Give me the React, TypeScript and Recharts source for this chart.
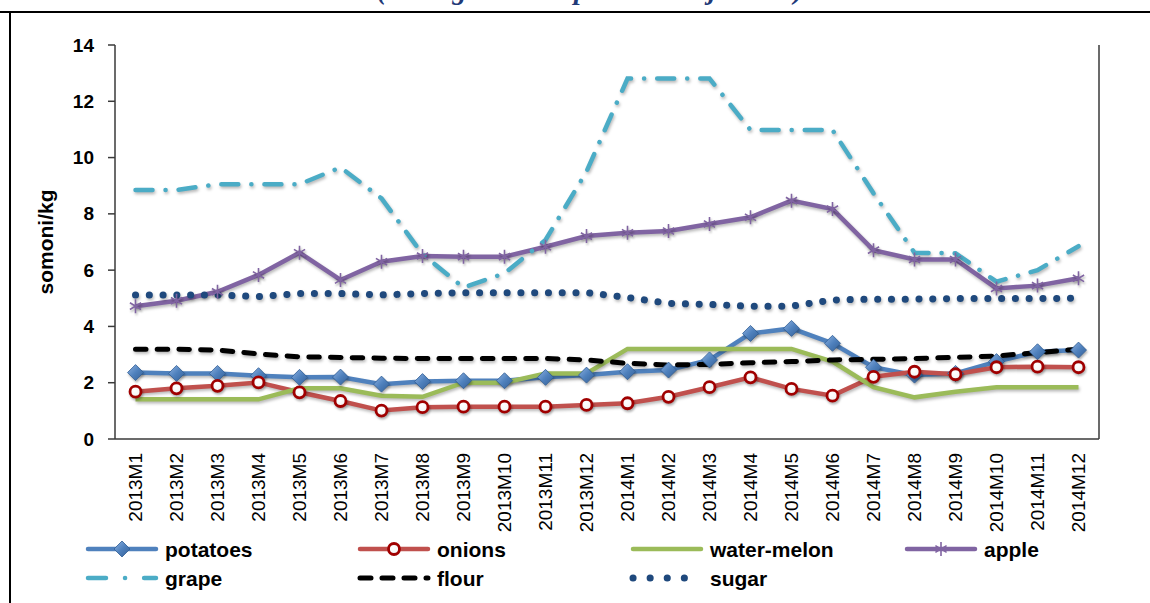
import { LineChart, Line, XAxis, YAxis } from 'recharts'

const months = [
  '2013M1', '2013M2', '2013M3', '2013M4', '2013M5', '2013M6',
  '2013M7', '2013M8', '2013M9', '2013M10', '2013M11', '2013M12',
  '2014M1', '2014M2', '2014M3', '2014M4', '2014M5', '2014M6',
  '2014M7', '2014M8', '2014M9', '2014M10', '2014M11', '2014M12',
]

const potatoes = [2.36, 2.33, 2.33, 2.25, 2.19, 2.2, 1.95, 2.04, 2.07, 2.07, 2.19, 2.27, 2.39, 2.45, 2.81, 3.75, 3.93, 3.4, 2.55, 2.27, 2.33, 2.75, 3.1, 3.16]
const onions = [1.68, 1.8, 1.89, 2.01, 1.66, 1.35, 1.01, 1.13, 1.15, 1.15, 1.15, 1.21, 1.27, 1.5, 1.84, 2.19, 1.78, 1.54, 2.21, 2.39, 2.3, 2.55, 2.57, 2.55]
const waterMelon = [1.41, 1.41, 1.41, 1.41, 1.8, 1.8, 1.54, 1.5, 2.0, 2.0, 2.33, 2.33, 3.2, 3.2, 3.2, 3.2, 3.2, 2.75, 1.84, 1.48, 1.68, 1.84, 1.84, 1.84]
const apple = [4.72, 4.91, 5.23, 5.83, 6.62, 5.65, 6.3, 6.5, 6.48, 6.48, 6.83, 7.21, 7.33, 7.39, 7.64, 7.88, 8.47, 8.17, 6.71, 6.38, 6.38, 5.35, 5.45, 5.71]
const grape = [8.85, 8.85, 9.05, 9.05, 9.05, 9.65, 8.55, 6.57, 5.38, 5.89, 7.07, 9.5, 12.81, 12.81, 12.81, 10.98, 10.98, 10.98, 8.73, 6.62, 6.6, 5.59, 6.0, 6.85]
const flour = [3.19, 3.19, 3.16, 3.02, 2.92, 2.9, 2.87, 2.86, 2.86, 2.86, 2.86, 2.81, 2.69, 2.63, 2.65, 2.71, 2.75, 2.81, 2.83, 2.86, 2.9, 2.95, 3.07, 3.19]
const sugar = [5.12, 5.12, 5.12, 5.06, 5.17, 5.17, 5.12, 5.17, 5.2, 5.2, 5.2, 5.2, 5.03, 4.82, 4.78, 4.72, 4.72, 4.94, 4.97, 4.97, 4.99, 4.99, 4.99, 5.0]

const yTicks = [0, 2, 4, 6, 8, 10, 12, 14]

const data = months.map((month, i) => ({
  month,
  potatoes: potatoes[i],
  onions: onions[i],
  waterMelon: waterMelon[i],
  apple: apple[i],
  grape: grape[i],
  flour: flour[i],
  sugar: sugar[i],
}))

const FONT = '"Liberation Sans", Arial, sans-serif'
const AXIS = '#3a3a3a'

const diamondPath = (cx: number, cy: number, r: number) =>
  `M${cx},${cy - r}L${cx + r},${cy}L${cx},${cy + r}L${cx - r},${cy}Z`

const DiamondDot = (props: any) => {
  const { cx, cy, index } = props
  if (cx == null || cy == null) return <g key={index} />
  return (
    <path
      key={index}
      d={diamondPath(cx, cy, 8)}
      fill="url(#potGrad)"
      stroke="#2f5d94"
      strokeWidth={0.8}
    />
  )
}

const RingDot = (props: any) => {
  const { cx, cy, index } = props
  if (cx == null || cy == null) return <g key={index} />
  return (
    <circle
      key={index}
      cx={cx}
      cy={cy}
      r={5.5}
      fill="url(#onionGrad)"
      stroke="#a00000"
      strokeWidth={2.8}
    />
  )
}

const starPath = (cx: number, cy: number, r: number) => {
  const d = r * 0.8
  return `M${cx},${cy - r}L${cx},${cy + r}M${cx - d},${cy - d * 0.6}L${cx + d},${cy + d * 0.6}M${cx - d},${cy + d * 0.6}L${cx + d},${cy - d * 0.6}`
}

const StarDot = (props: any) => {
  const { cx, cy, index } = props
  if (cx == null || cy == null) return <g key={index} />
  return (
    <path
      key={index}
      d={starPath(cx, cy, 7)}
      stroke="#8064a2"
      strokeWidth={1.6}
      fill="none"
    />
  )
}

const MonthTick = (props: any) => {
  const { x, y, payload } = props
  return (
    <text
      x={x}
      y={y}
      transform={`rotate(-90 ${x} ${y})`}
      textAnchor="end"
      dominantBaseline="central"
      fontFamily={FONT}
      fontSize={19}
      fill="#000"
    >
      {payload.value}
    </text>
  )
}

const ValueTick = (props: any) => {
  const { x, y, payload, anchor } = props
  return (
    <text
      x={x}
      y={y}
      textAnchor={anchor}
      dominantBaseline="central"
      fontFamily={FONT}
      fontWeight="bold"
      fontSize={19}
      fill="#000"
    >
      {payload.value}
    </text>
  )
}

const legendItems = [
  { name: 'potatoes', color: '#4f81bd', width: 4.5, dash: undefined, marker: 'diamond' },
  { name: 'onions', color: '#c0504d', width: 4.5, dash: undefined, marker: 'ring' },
  { name: 'water-melon', color: '#9bbb59', width: 4.5, dash: undefined, marker: '' },
  { name: 'apple', color: '#8064a2', width: 4.5, dash: undefined, marker: 'star' },
  { name: 'grape', color: '#4bacc6', width: 4.5, dash: '18 19 0.1 19', marker: '' },
  { name: 'flour', color: '#000000', width: 5, dash: '11 11', marker: '' },
  { name: 'sugar', color: '#1f497d', width: 7, dash: '0.1 17', marker: '' },
]

const legendCols = [88, 360, 633, 907]
const legendRows = [549, 578]

function Legend() {
  return (
    <svg
      width={1150}
      height={603}
      style={{ position: 'absolute', left: 0, top: 0, pointerEvents: 'none' }}
    >
      {legendItems.map((item, i) => {
        const x = legendCols[i % 4]
        const y = legendRows[Math.floor(i / 4)]
        return (
          <g key={item.name}>
            <line
              x1={x}
              x2={x + 68}
              y1={y}
              y2={y}
              stroke={item.color}
              strokeWidth={item.width}
              strokeDasharray={item.dash}
              strokeLinecap="round"
            />
            {item.marker === 'diamond' && (
              <path d={diamondPath(x + 34, y, 8)} fill="url(#potGrad)" stroke="#2f5d94" strokeWidth={0.8} />
            )}
            {item.marker === 'ring' && (
              <circle cx={x + 34} cy={y} r={5.5} fill="url(#onionGrad)" stroke="#a00000" strokeWidth={2.8} />
            )}
            {item.marker === 'star' && (
              <path d={starPath(x + 34, y, 7)} stroke="#8064a2" strokeWidth={1.6} fill="none" />
            )}
            <text
              x={x + 77}
              y={y}
              dominantBaseline="central"
              fontFamily={FONT}
              fontWeight="bold"
              fontSize={21}
              fill="#000"
            >
              {item.name}
            </text>
          </g>
        )
      })}
    </svg>
  )
}

export default function App() {
  return (
    <div style={{ position: 'relative', width: 1150, height: 603, overflow: 'hidden', background: '#fff' }}>
      <style>{`
        body { margin: 0; }
        .recharts-line-curve { filter: drop-shadow(1.5px 2.5px 1.5px rgba(0,0,0,0.28)); }
        .recharts-line-dots { filter: drop-shadow(1.5px 2px 1.2px rgba(0,0,0,0.3)); }
      `}</style>
      <svg width={0} height={0} style={{ position: 'absolute' }}>
        <defs>
          <linearGradient id="potGrad" x1="0" y1="0" x2="1" y2="1">
            <stop offset="0%" stopColor="#8fb2e2" />
            <stop offset="50%" stopColor="#4f81bd" />
            <stop offset="100%" stopColor="#345f96" />
          </linearGradient>
          <radialGradient id="onionGrad" cx="0.4" cy="0.35" r="0.7">
            <stop offset="0%" stopColor="#ffffff" />
            <stop offset="70%" stopColor="#f6f6f6" />
            <stop offset="100%" stopColor="#d8d8d8" />
          </radialGradient>
        </defs>
      </svg>

      {/* frame */}
      <div style={{ position: 'absolute', left: 0, top: 11, width: 1150, height: 2, background: '#000' }} />
      <div style={{ position: 'absolute', left: 9, top: 11, width: 2, height: 592, background: '#000' }} />
      <div
        style={{
          position: 'absolute',
          left: 0,
          width: 1180,
          top: -26,
          textAlign: 'center',
          fontFamily: '"Liberation Serif", "Times New Roman", serif',
          fontStyle: 'italic',
          fontWeight: 'bold',
          fontSize: 28,
          lineHeight: '32px',
          color: '#1f3a78',
          whiteSpace: 'nowrap',
        }}
      >
        (Average market prices in Tajikistan)
      </div>

      <div style={{ position: 'absolute', left: 0, top: 0 }}>
        <LineChart
          width={1150}
          height={540}
          data={data}
          margin={{ top: 45, right: 0, left: 0, bottom: 0 }}
        >
          <XAxis
            dataKey="month"
            interval={0}
            height={101}
            padding={{ left: 20.5, right: 20.5 }}
            tickLine={false}
            tickSize={6}
            tickMargin={8}
            axisLine={{ stroke: AXIS, strokeWidth: 1.5 }}
            tick={<MonthTick />}
          />
          <YAxis
            yAxisId="left"
            width={115}
            domain={[0, 14]}
            ticks={yTicks}
            interval={0}
            tickSize={7}
            tickMargin={14}
            axisLine={{ stroke: AXIS, strokeWidth: 1.5 }}
            tickLine={{ stroke: AXIS, strokeWidth: 1.5 }}
            tick={<ValueTick anchor="end" />}
            label={{
              content: () => (
                <text
                  x={45}
                  y={242}
                  transform="rotate(-90 45 242)"
                  textAnchor="middle"
                  dominantBaseline="central"
                  fontFamily={FONT}
                  fontWeight="bold"
                  fontSize={21}
                  fill="#000"
                >
                  somoni/kg
                </text>
              ),
            }}
          />
          <YAxis
            yAxisId="right"
            orientation="right"
            width={51}
            domain={[0, 14]}
            ticks={yTicks}
            interval={0}
            tickSize={7}
            tickMargin={16}
            axisLine={{ stroke: AXIS, strokeWidth: 1.5 }}
            tickLine={{ stroke: AXIS, strokeWidth: 1.5 }}
            tick={<ValueTick anchor="start" />}
          />

          <Line yAxisId="left" dataKey="potatoes" stroke="#4f81bd" strokeWidth={4.5} dot={<DiamondDot />} activeDot={false} isAnimationActive={false} />
          <Line yAxisId="left" dataKey="onions" stroke="#c0504d" strokeWidth={4.5} dot={<RingDot />} activeDot={false} isAnimationActive={false} />
          <Line yAxisId="left" dataKey="waterMelon" stroke="#9bbb59" strokeWidth={4.5} dot={false} activeDot={false} isAnimationActive={false} />
          <Line yAxisId="left" dataKey="apple" stroke="#8064a2" strokeWidth={4.5} dot={<StarDot />} activeDot={false} isAnimationActive={false} />
          <Line yAxisId="left" dataKey="grape" stroke="#4bacc6" strokeWidth={4.5} strokeDasharray="17 13 0.1 13" strokeLinecap="round" dot={false} activeDot={false} isAnimationActive={false} />
          <Line yAxisId="left" dataKey="flour" stroke="#000" strokeWidth={5} strokeDasharray="10.5 11.2" strokeLinecap="round" dot={false} activeDot={false} isAnimationActive={false} />
          <Line yAxisId="left" dataKey="sugar" stroke="#1f497d" strokeWidth={7} strokeDasharray="0.1 13.67" strokeLinecap="round" dot={false} activeDot={false} isAnimationActive={false} />
        </LineChart>
      </div>

      <Legend />
    </div>
  )
}
